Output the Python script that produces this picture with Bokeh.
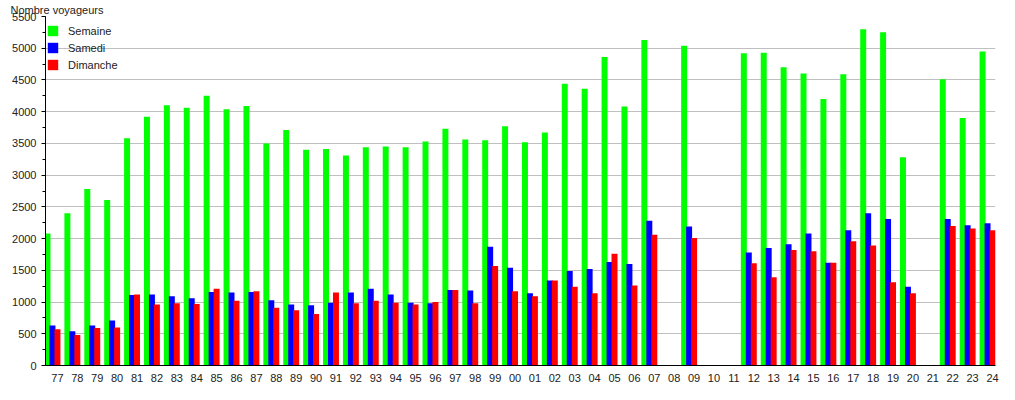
from bokeh.plotting import figure
from bokeh.models import ColumnDataSource, FixedTicker, Range1d, Legend
from bokeh.embed import file_html
from bokeh.resources import INLINE

years = ["77","78","79","80","81","82","83","84","85","86","87","88","89","90","91","92",
         "93","94","95","96","97","98","99","00","01","02","03","04","05","06","07","08",
         "09","10","11","12","13","14","15","16","17","18","19","20","21","22","23","24"]

semaine = [2080,2400,2780,2610,3580,3920,4100,4060,4250,4040,4090,3500,3710,3400,3410,3310,
           3440,3450,3440,3530,3730,3560,3550,3770,3520,3670,4440,4360,4860,4080,5130,None,
           5040,None,None,4920,4930,4700,4600,4200,4590,5300,5250,3280,None,4510,3900,4950]

samedi = [630,540,630,710,1110,1120,1090,1060,1160,1150,1160,1030,960,950,990,1150,
          1210,1120,990,980,1190,1180,1870,1540,1140,1340,1490,1520,1630,1600,2280,None,
          2190,None,None,1780,1850,1910,2080,1620,2130,2400,2310,1240,None,2310,2210,2240]

dimanche = [570,480,590,600,1120,960,980,970,1210,1020,1170,910,870,810,1150,980,
            1020,990,960,1000,1190,980,1570,1170,1090,1340,1240,1140,1760,1260,2060,None,
            2010,None,None,1610,1390,1820,1800,1620,1960,1890,1310,1140,None,2200,2160,2130]

series = [("Semaine", semaine, "#00ff00", -0.5),
          ("Samedi", samedi, "#0000ff", -0.25),
          ("Dimanche", dimanche, "#ff0000", 0.0)]

FONT = "Liberation Sans"

p = figure(width=999, height=384, output_backend="svg", toolbar_location=None,
           x_range=Range1d(-0.6, 47.15), y_range=Range1d(0, 5500),
           min_border_left=45, min_border_right=4, min_border_bottom=14, min_border_top=4)
p.outline_line_color = None

p.title.text = "Nombre voyageurs"
p.title.text_font = FONT
p.title.text_font_size = "11px"
p.title.text_font_style = "normal"
p.title.text_color = "#222222"
p.title.align = "left"
p.title.offset = -35
p.title.standoff = 2

items = []
for name, vals, color, off in series:
    xs = [i + off for i, v in enumerate(vals) if v is not None]
    tops = [v for v in vals if v is not None]
    src = ColumnDataSource(dict(x=xs, top=tops))
    r = p.vbar(x="x", top="top", width=0.3, bottom=0, source=src,
               fill_color=color, line_color=None)
    items.append((name, [r]))

legend = Legend(items=items, location=(1, 294))
legend.background_fill_alpha = 0
legend.border_line_color = None
legend.label_text_font = FONT
legend.label_text_font_size = "11px"
legend.label_text_color = "#222222"
legend.glyph_width = 13
legend.glyph_height = 13
legend.label_height = 13
legend.spacing = 4
legend.padding = 4
legend.margin = 0
legend.label_standoff = 9
p.add_layout(legend)

# x axis
p.xaxis.ticker = FixedTicker(ticks=list(range(len(years))))
p.xaxis.major_label_overrides = {i: y for i, y in enumerate(years)}
p.xaxis.major_tick_line_color = None
p.xaxis.minor_tick_line_color = None
p.xaxis.axis_line_color = "black"
p.xaxis.major_label_text_font = FONT
p.xaxis.major_label_text_font_size = "11px"
p.xaxis.major_label_text_color = "#222222"
p.xaxis.major_label_standoff = 2
p.xgrid.grid_line_color = None

# y axis
p.yaxis.ticker = FixedTicker(ticks=list(range(0, 5501, 500)),
                             minor_ticks=list(range(0, 5501, 250)))
p.yaxis.axis_line_color = "black"
p.yaxis.major_tick_line_color = "black"
p.yaxis.minor_tick_line_color = "black"
p.yaxis.major_tick_out = 4
p.yaxis.major_tick_in = 0
p.yaxis.minor_tick_out = 3
p.yaxis.minor_tick_in = 0
p.yaxis.major_label_text_font = FONT
p.yaxis.major_label_text_font_size = "11px"
p.yaxis.major_label_text_color = "#222222"
p.yaxis.major_label_standoff = 5
p.ygrid.grid_line_color = "#c0c0c0"
p.ygrid.grid_line_width = 1

open("out.html", "w").write(file_html(p, INLINE))
